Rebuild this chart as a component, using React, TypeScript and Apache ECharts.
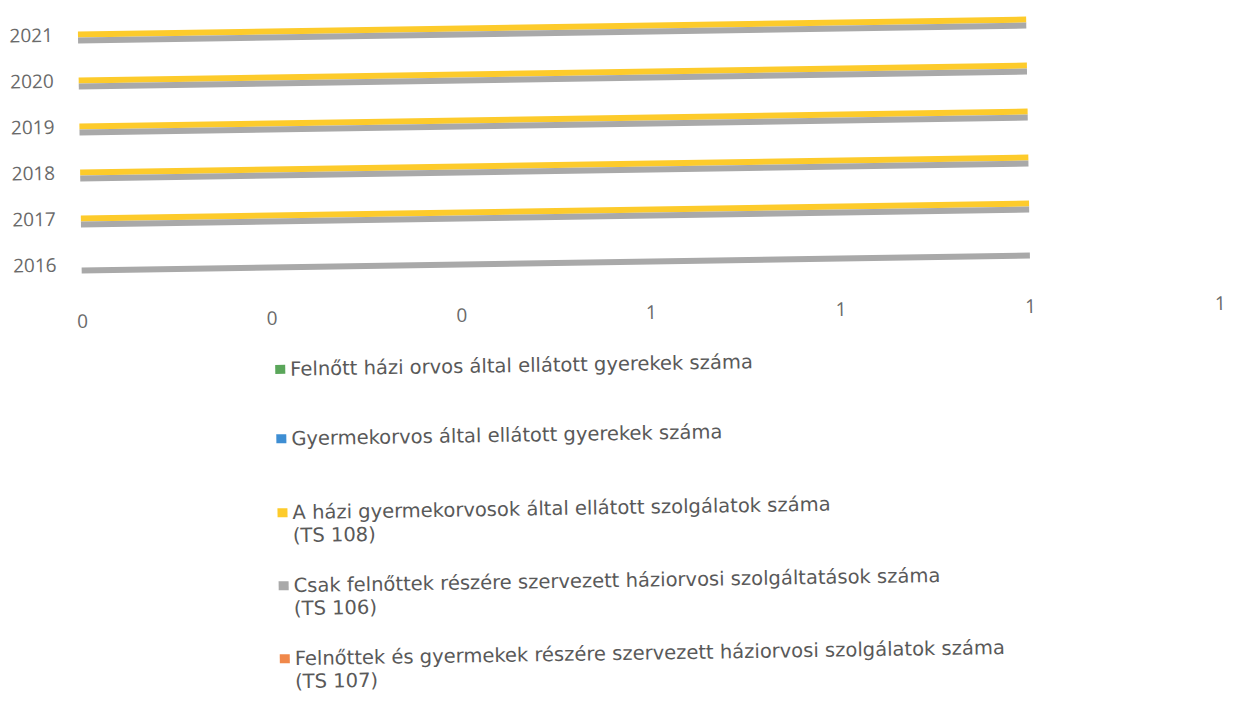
import React, { useEffect, useRef } from "react";
import * as echarts from "echarts";

// ---- data ----
const years = ["2016", "2017", "2018", "2019", "2020", "2021"];
const seriesNames = [
  "Felnőtt házi orvos által ellátott gyerekek száma",
  "Gyermekorvos által ellátott gyerekek száma",
  "A házi gyermekorvosok által ellátott szolgálatok száma (TS 108)",
  "Csak felnőttek részére szervezett háziorvosi szolgáltatások száma (TS 106)",
  "Felnőttek és gyermekek részére szervezett háziorvosi szolgálatok száma (TS 107)",
];
const felnottHaziOrvosGyerekek = [0, 0, 0, 0, 0, 0];
const gyermekorvosGyerekek = [0, 0, 0, 0, 0, 0];
const ts108 = [0, 1, 1, 1, 1, 1];
const ts106 = [1, 1, 1, 1, 1, 1];
const ts107 = [0, 0, 0, 0, 0, 0];
const xMin = 0;
const xMax = 1.2;
const xInterval = 0.2;

const seriesData = [felnottHaziOrvosGyerekek, gyermekorvosGyerekek, ts108, ts106, ts107];
const colors = ["#5AA65A", "#3E8ED3", "#FDCB2B", "#A9A9A9", "#F0884A"];
const legendIconCenters = [364, 433.5, 507.5, 580.5, 653.5];
const FONT = "Open Sans";
const LEGEND_FONT = "DejaVu Sans";
const TXT = "#595959";
const AXIS_TXT = "#6a6a6a";

export default function App() {
  const ref = useRef<HTMLDivElement>(null);
  useEffect(() => {
    if (!ref.current) return;
    const chart = echarts.init(ref.current, undefined, { renderer: "svg" });
    const legends = seriesNames.map((name, i) => {
      const twoLine = name.includes(" (TS");
      return {
        data: [name],
        orient: "vertical",
        left: 275,
        top: twoLine ? legendIconCenters[i] - 34.5 : legendIconCenters[i] - 11.5,
        padding: 0,
        icon: "rect",
        itemWidth: 10,
        itemHeight: 9,
        selectedMode: false,
        formatter: (n: string) => (twoLine ? "\n" + n.replace(" (TS", "\n(TS") : n),
        textStyle: {
          fontFamily: LEGEND_FONT,
          fontSize: 19.5,
          color: TXT,
          lineHeight: 23,
        },
      };
    });
    chart.setOption({
      animation: false,
      backgroundColor: "#ffffff",
      grid: { left: 83, right: 14, top: 3, bottom: 423, containLabel: false },
      xAxis: {
        type: "value",
        min: xMin,
        max: xMax,
        interval: xInterval,
        axisLine: { show: false },
        axisTick: { show: false },
        splitLine: { show: false },
        axisLabel: {
          margin: 24,
          fontFamily: FONT,
          fontSize: 19,
          color: AXIS_TXT,
          formatter: (v: number) => String(Math.round(v)),
        },
      },
      yAxis: {
        type: "category",
        data: years,
        axisLine: { show: false },
        axisTick: { show: false },
        splitLine: { show: false },
        axisLabel: { margin: 25, fontFamily: FONT, fontSize: 19, color: AXIS_TXT },
      },
      legend: legends,
      series: seriesNames.map((name, i) => ({
        name,
        type: "bar",
        data: seriesData[i],
        barWidth: 6,
        barGap: "0%",
        itemStyle: { color: colors[i] },
      })),
    });
    return () => chart.dispose();
  }, []);
  return (
    <div style={{ position: "fixed", left: 0, top: 0, width: 1235, height: 702, overflow: "hidden", background: "#fff" }}>
      <div
        ref={ref}
        style={{ position: "absolute", left: 0, top: 0, width: 1235, height: 702, transform: "rotate(-0.9deg)" }}
      />
    </div>
  );
}
